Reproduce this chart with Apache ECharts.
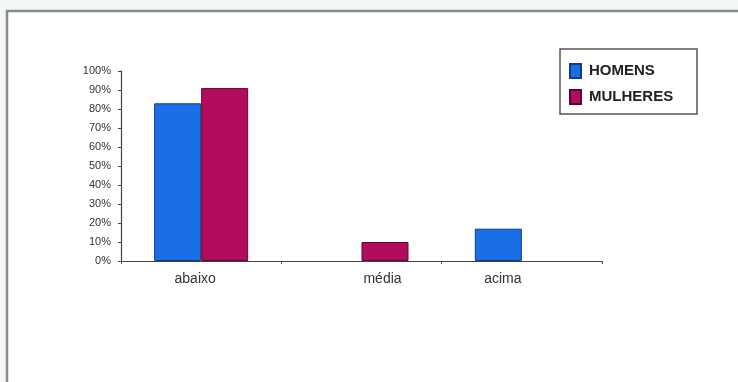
<!DOCTYPE html>
<html>
<head>
<meta charset="utf-8">
<script src="https://cdn.jsdelivr.net/npm/echarts@6/dist/echarts.min.js"></script>
<style>
  html, body { margin: 0; padding: 0; background: #f3f6f7; }
  #chart { width: 738px; height: 382px; }
</style>
</head>
<body>
<div id="chart"></div>
<script>
// Categories, series and y tick labels
const categories = ['abaixo', 'média', 'acima'];
const homens = [83, 0, 17];
const mulheres = [91, 10, 0];
const yTicks = ['0%', '10%', '20%', '30%', '40%', '50%', '60%', '70%', '80%', '90%', '100%'];

// Category labels sit under the bars that are drawn, so each gets its own nudge
const labelStyleKey = { 'abaixo': 'l', 'média': 'r', 'acima': 'a' };

// Empty groups are left out rather than drawn as flat bars
const toBars = arr => arr.map(v => (v === 0 ? null : v));

const chart = echarts.init(document.getElementById('chart'), null, { renderer: 'canvas' });

const font = '"Liberation Sans", Arial, sans-serif';

chart.setOption({
  backgroundColor: 'transparent',
  animation: false,
  graphic: [
    // white panel with a grey frame running off the right and bottom
    {
      type: 'rect', z: -10,
      shape: { x: 7, y: 11, width: 760, height: 400 },
      style: { fill: '#ffffff', stroke: '#8a8a8a', lineWidth: 2.5 }
    },
    // legend box
    {
      type: 'rect', z: 5,
      shape: { x: 560, y: 49, width: 137, height: 65 },
      style: { fill: '#ffffff', stroke: '#555555', lineWidth: 1.5 }
    }
  ],
  legend: {
    orient: 'vertical',
    left: 564,
    top: 58,
    z: 10,
    icon: 'rect',
    itemWidth: 11,
    itemHeight: 14,
    itemGap: 10,
    data: ['HOMENS', 'MULHERES'],
    textStyle: { fontFamily: font, fontSize: 15, fontWeight: 'bold', color: '#222', padding: [0, 0, 0, 3] }
  },
  grid: { left: 121, right: 136, top: 71, bottom: 121, containLabel: false },
  xAxis: {
    type: 'category',
    data: categories,
    boundaryGap: true,
    axisLine: { lineStyle: { color: '#444', width: 1.2 } },
    axisTick: { show: true, alignWithLabel: false, length: 3, inside: false, lineStyle: { color: '#444' } },
    axisLabel: {
      margin: 11,
      fontFamily: font,
      fontSize: 14,
      color: '#333',
      formatter: v => '{' + labelStyleKey[v] + '|' + v + '}',
      rich: {
        l: { fontFamily: font, fontSize: 14, color: '#333', padding: [0, 12, 0, 0] },
        r: { fontFamily: font, fontSize: 14, color: '#333', padding: [0, 0, 0, 42] },
        a: { fontFamily: font, fontSize: 14, color: '#333', padding: [0, 38, 0, 0] }
      }
    }
  },
  yAxis: {
    type: 'value',
    min: 0,
    max: 100,
    interval: 10,
    splitLine: { show: false },
    axisLine: { show: true, lineStyle: { color: '#444', width: 1.2 } },
    axisTick: { show: true, length: 3, lineStyle: { color: '#444' } },
    axisLabel: {
      margin: 10,
      fontFamily: font,
      fontSize: 11,
      color: '#333',
      formatter: v => yTicks[Math.round(v / 10)]
    }
  },
  series: [
    {
      name: 'HOMENS',
      type: 'bar',
      data: toBars(homens),
      barWidth: 47,
      barGap: '0%',
      itemStyle: { color: '#1a6fe6', borderColor: '#0d3f86', borderWidth: 1 }
    },
    {
      name: 'MULHERES',
      type: 'bar',
      data: toBars(mulheres),
      barWidth: 47,
      barGap: '0%',
      itemStyle: { color: '#b20d5c', borderColor: '#5e0630', borderWidth: 1 }
    }
  ]
});
</script>
</body>
</html>
